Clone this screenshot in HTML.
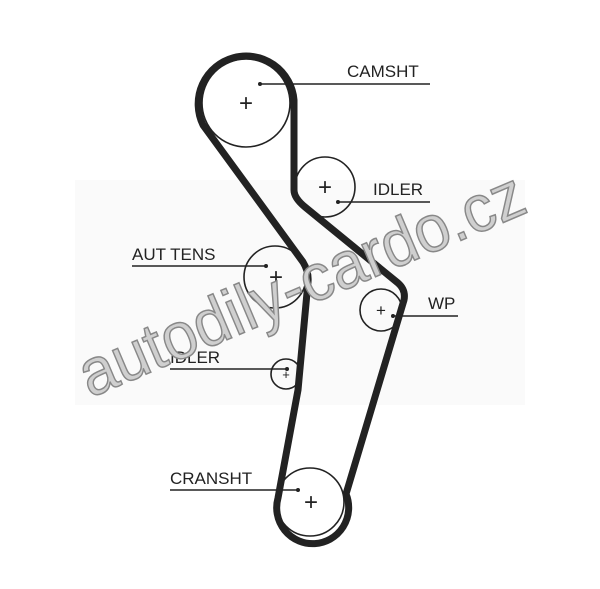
<!DOCTYPE html>
<html><head><style>
html,body{margin:0;padding:0;background:#fff;}
svg{display:block}
text{font-family:"Liberation Sans",Arial,sans-serif;}
</style></head><body>
<svg width="600" height="589" viewBox="0 0 600 589">
<rect x="75" y="180" width="450" height="225" fill="#fafafa"/>
<g fill="none" stroke="#222" stroke-width="1.6">
<circle cx="246" cy="103" r="44"/>
<circle cx="325" cy="187" r="30"/>
<circle cx="275" cy="277" r="31"/>
<circle cx="381" cy="310" r="21"/>
<circle cx="286" cy="374" r="15"/>
<circle cx="310" cy="502" r="34"/>
</g>
<path d="M294,190 L294,100 A48 48 0 1 0 203,125 L303,262 Q309,272 308,282 L298,390 L278,498 A36 36 0 1 0 346,494 L404,300 Q406,290 398,283 L305,207 Q294,198 294,190 Z" fill="none" stroke="#222" stroke-width="7" stroke-linejoin="round"/>
<g stroke="#222" stroke-width="1.6">
<line x1="260" y1="84" x2="430" y2="84"/>
<line x1="338" y1="202" x2="430" y2="202"/>
<line x1="132" y1="266" x2="266" y2="266"/>
<line x1="393" y1="316" x2="458" y2="316"/>
<line x1="170" y1="369" x2="287" y2="369"/>
<line x1="170" y1="490" x2="298" y2="490"/>
</g>
<g fill="#222">
<circle cx="260" cy="84" r="2"/><circle cx="338" cy="202" r="2"/><circle cx="266" cy="266" r="2"/>
<circle cx="393" cy="316" r="2"/><circle cx="287" cy="369" r="2"/><circle cx="298" cy="490" r="2"/>
</g>
<g font-size="24" fill="#222" text-anchor="middle">
<text x="246" y="111">+</text><text x="325" y="195">+</text><text x="276" y="285">+</text>
<text x="381" y="316" font-size="17">+</text><text x="286" y="379" font-size="13">+</text><text x="311" y="510">+</text>
</g>
<g font-size="17" fill="#222">
<text x="347" y="77">CAMSHT</text>
<text x="373" y="195">IDLER</text>
<text x="132" y="260">AUT TENS</text>
<text x="428" y="309">WP</text>
<text x="170" y="363">IDLER</text>
<text x="170" y="484">CRANSHT</text>
</g>
<text x="0" y="0" transform="translate(90,398) rotate(-23)" font-size="66" fill="#cfcfcf" stroke="#888" stroke-width="1.5" textLength="478" lengthAdjust="spacingAndGlyphs">autodily-cardo.cz</text>
</svg>
</body></html>
